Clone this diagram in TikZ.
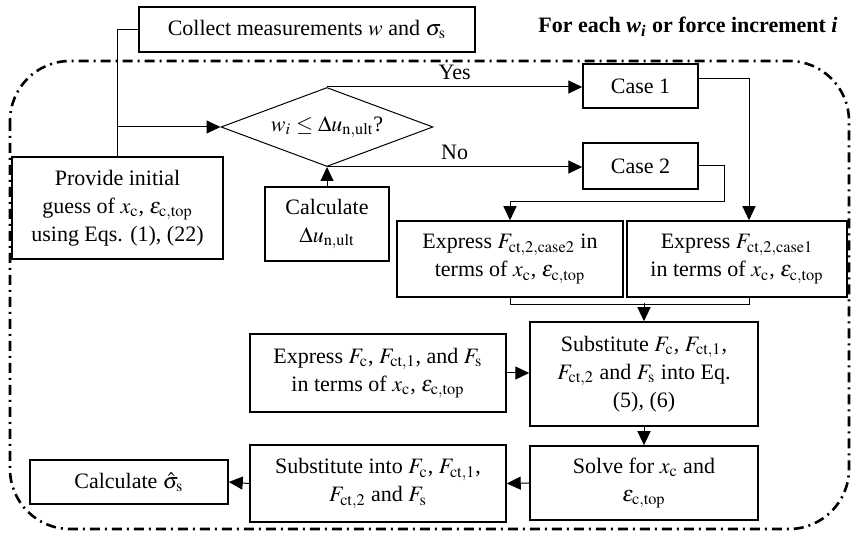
\documentclass[tikz,border=0pt]{standalone}
\usepackage{amsmath}
\usepackage{mathptmx}
\usepackage{fontspec}
\setmainfont{Liberation Serif}
\usetikzlibrary{shapes.geometric,arrows.meta}
\tikzstyle{line} = [draw, line width=0.5pt, -{Triangle[length=7pt,width=6.5pt]}]
\tikzstyle{wire} = [draw, line width=0.5pt]
\tikzstyle{box} = [draw, line width=0.75pt, align=center, inner sep=0pt]
\tikzstyle{decision} = [draw, diamond, aspect=2.68, line width=0.5pt, inner sep=0pt, minimum width=106pt, minimum height=39.5pt]
\tikzstyle{loopframe} = [draw, line width=1.3pt, dash pattern=on 5pt off 2.5pt on 1pt off 2.5pt, rounded corners=30pt]

\begin{document}
\begin{tikzpicture}[x=0.5pt, y=-0.5pt, font=\fontsize{11}{14}\selectfont]
    \useasboundingbox (0,0) rectangle (853,533);
    % loop over the increments
    \path [loopframe] (10,61) rectangle (849,529);
    \node (title) at (688,27) {\bfseries For each {\itshape w}\textsubscript{\itshape i} or force increment {\itshape i}};
    % nodes
    \node [box, minimum width=168pt, minimum height=22.5pt] (collect) at (307,29.5) {Collect measurements $w$ and $\sigma_{\mathrm{s}}$};
    \node [box, minimum width=105.5pt, minimum height=51pt] (provide) at (117.5,208) {Provide initial\\ guess of $x_{\mathrm{c}}$, $\varepsilon_{\mathrm{c,top}}$\\ using Eqs. (1), (22)};
    \node [decision] (dec) at (327,127) {$w_i \leq \Delta u_{\mathrm{n,ult}}$?};
    \node [box, minimum width=62pt, minimum height=37pt] (calcdu) at (327,224) {Calculate\\ $\Delta u_{\mathrm{n,ult}}$};
    \node [box, minimum width=57.5pt, minimum height=22pt] (case1) at (640.5,86) {Case 1};
    \node [box, minimum width=57.5pt, minimum height=23pt] (case2) at (640.5,166) {Case 2};
    \node [box, minimum width=113pt, minimum height=38pt] (exp2) at (510,259) {Express $F_{\mathrm{ct,2,case2}}$ in\\ terms of $x_{\mathrm{c}}$, $\varepsilon_{\mathrm{c,top}}$};
    \node [box, minimum width=110pt, minimum height=38pt] (exp1) at (737,259) {Express $F_{\mathrm{ct,2,case1}}$\\ in terms of $x_{\mathrm{c}}$, $\varepsilon_{\mathrm{c,top}}$};
    \node [box, minimum width=114pt, minimum height=52pt] (subs) at (644,374) {Substitute $F_{\mathrm{c}}$, $F_{\mathrm{ct,1}}$,\\ $F_{\mathrm{ct,2}}$ and $F_{\mathrm{s}}$ into Eq.\\ (5), (6)};
    \node [box, minimum width=128pt, minimum height=39pt] (expf) at (378,373) {Express $F_{\mathrm{c}}$, $F_{\mathrm{ct,1}}$, and $F_{\mathrm{s}}$\\ in terms of $x_{\mathrm{c}}$, $\varepsilon_{\mathrm{c,top}}$};
    \node [box, minimum width=114pt, minimum height=37pt] (solve) at (644,483) {Solve for $x_{\mathrm{c}}$ and\\ $\varepsilon_{\mathrm{c,top}}$};
    \node [box, minimum width=128pt, minimum height=38.5pt] (subinto) at (378,483.5) {Substitute into $F_{\mathrm{c}}$, $F_{\mathrm{ct,1}}$,\\ $F_{\mathrm{ct,2}}$ and $F_{\mathrm{s}}$};
    \node [box, minimum width=99pt, minimum height=22pt] (calcsig) at (129,482) {Calculate $\hat{\sigma}_{\mathrm{s}}$};
    % connectors
    \path [wire] (collect.west) -| (provide.north);
    \path [line] (dec.west -| provide.north) -- (dec.west);
    \path [line] (dec.north) -- node [above, pos=0.5] {Yes} (dec.north -| case1.west);
    \path [line] (dec.south) -- node [above, pos=0.5] {No} (dec.south -| case2.west);
    \path [line] (calcdu.north) -- (dec.south);
    \path [line] ([yshift=3.5pt]case1.east) -| ([xshift=6pt]exp1.north);
    \path [line] (case2.east) -- ++(13pt,0) |- ([yshift=9.5pt]exp2.north) -- (exp2.north);
    \path [wire] (exp2.south) -- ++(0,-3.5pt) -| ([xshift=6pt]exp1.south);
    \path [line] ([yshift=9pt]subs.north) -- (subs.north);
    \path [line] (expf.east) -- (expf.east -| subs.west);
    \path [line] (subs.south) -- (solve.north);
    \path [line] (solve.west) -- (subinto.east);
    \path [line] (subinto.west) -- (calcsig.east);
\end{tikzpicture}
\end{document}
